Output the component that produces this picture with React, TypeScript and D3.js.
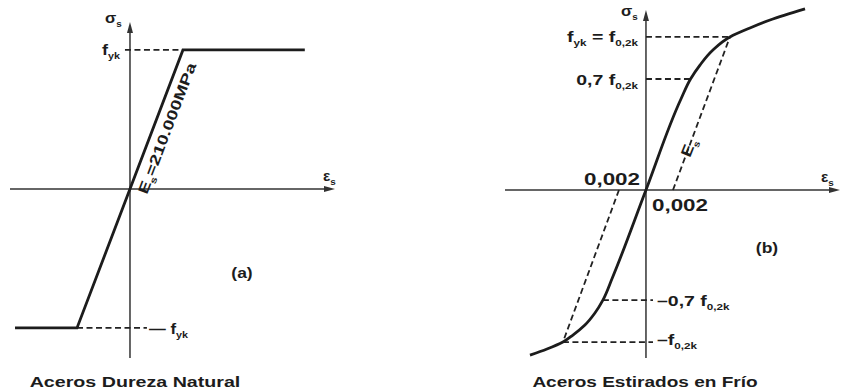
import React from 'react';
import * as d3 from 'd3';

// (a) hot-rolled steel: strain in per mil, stress as fraction of fyk
const leftStrain = [-4.34, -2, 2, 6.6];
const leftStress = [-1, -1, 1, 1];

// (b) cold-worked steel: strain in per mil, stress as fraction of f0,2k
const rightStrain = [-8.59, -7.33, -6.15, -5.41, -4.52, -3.78, -3.19, -2.5, 0, 2.6, 3.3, 4.0, 4.96, 6.22, 7.7, 9.19, 11.78];
const rightStress = [-1.086, -1.046, -1.0, -0.954, -0.888, -0.809, -0.724, -0.58, 0, 0.6, 0.73, 0.822, 0.921, 1.007, 1.066, 1.118, 1.191];

// offset (0,002) lines parallel to Es
const offsetTopStrain = [2, 6.22];
const offsetTopStress = [0, 1.007];
const offsetBotStrain = [-2, -6.15];
const offsetBotStress = [0, -1.0];

// dashed reference levels: [stress, fromStrain, toStrain]
const leftLevels: [number, number, number][] = [
  [1, -0.19, 2],
  [-1, -2, 0.64],
];
const rightLevels: [number, number, number][] = [
  [1.007, 0, 6.22],
  [0.73, 0, 3.3],
  [-0.724, -3.19, 0.52],
  [-1.0, -6.15, 0.52],
];

const FONT = '"Liberation Sans", Arial, sans-serif';
const INK = '#1c1c1c';
const SX = 1.35;

const Label = ({ x, y, anchor = 'start', size = 15, sx = SX, rotate = 0, children }: any) => (
  <g transform={`translate(${x},${y}) rotate(${rotate}) scale(${sx},1)`}>
    <text
      textAnchor={anchor}
      fontFamily={FONT}
      fontWeight="bold"
      fontSize={size}
      fill={INK}
    >
      {children}
    </text>
  </g>
);

const Sub = ({ children, size = 9 }: any) => (
  <tspan fontSize={size} dy={4}>
    {children}
  </tspan>
);

const Arrow = ({ x, y, dir }: { x: number; y: number; dir: 'up' | 'right' }) => {
  const pts =
    dir === 'up'
      ? `${x},${y} ${x - 3},${y + 11} ${x + 3},${y + 11}`
      : `${x},${y} ${x - 11},${y - 3} ${x - 11},${y + 3}`;
  return <polygon points={pts} fill="#333" />;
};

export default function App() {
  // left panel scales
  const xL = d3.scaleLinear().domain([-4.53, 7.74]).range([10, 335]);
  const yL = d3.scaleLinear().domain([-1.216, 1.201]).range([358, 22]);
  // right panel scales
  const xR = d3.scaleLinear().domain([-10.44, 14.37]).range([505, 840]);
  const yR = d3.scaleLinear().domain([-1.105, 1.184]).range([358, 10]);

  const leftData = leftStrain.map((e, i) => [e, leftStress[i]] as [number, number]);
  const rightData = rightStrain.map((e, i) => [e, rightStress[i]] as [number, number]);

  const lineL = d3
    .line<[number, number]>()
    .x((d) => xL(d[0]))
    .y((d) => yL(d[1]));
  const lineR = d3
    .line<[number, number]>()
    .x((d) => xR(d[0]))
    .y((d) => yR(d[1]));
  const curveR = d3
    .line<[number, number]>()
    .x((d) => xR(d[0]))
    .y((d) => yR(d[1]))
    .curve(d3.curveMonotoneY);

  const angL = (Math.atan2(yL(1) - yL(0), xL(2) - xL(0)) * 180) / Math.PI;
  const angR = (Math.atan2(yR(0.73) - yR(0), xR(3.26) - xR(0)) * 180) / Math.PI;

  const dash = '6,3.5';
  const dashW = 1.8;

  return (
    <svg
      width={842}
      height={392}
      style={{ position: 'absolute', left: 0, top: 0, background: '#fff' }}
    >
      {/* ---------- (a) ---------- */}
      <g>
        <line x1={xL(0)} x2={xL(0)} y1={yL.range()[0]} y2={yL.range()[1] + 4} stroke="#333" strokeWidth={1.5} />
        <line x1={xL.range()[0]} x2={xL.range()[1] - 4} y1={yL(0)} y2={yL(0)} stroke="#333" strokeWidth={1.5} />
        <Arrow x={xL(0)} y={yL.range()[1]} dir="up" />
        <Arrow x={xL.range()[1]} y={yL(0)} dir="right" />

        {leftLevels.map(([s, a, b], i) => (
          <line key={i} x1={xL(a)} x2={xL(b)} y1={yL(s)} y2={yL(s)} stroke="#222" strokeWidth={dashW} strokeDasharray={dash} />
        ))}

        <path d={lineL(leftData) || ''} fill="none" stroke={INK} strokeWidth={2.8} strokeLinejoin="miter" />

        <Label x={105} y={23} size={15} sx={1.1}>
          σ<Sub>s</Sub>
        </Label>
        <Label x={323} y={181} size={14} sx={1.1}>
          ε<Sub>s</Sub>
        </Label>
        <Label x={120} y={55} anchor="end" size={15} sx={1.2}>
          f<Sub>yk</Sub>
        </Label>
        <Label x={149} y={334} size={14} sx={1.2}>
          — f<Sub>yk</Sub>
        </Label>
        <Label x={147} y={195} rotate={angL} size={14.5} sx={1.32}>
          E<Sub>s</Sub>
          <tspan dy={-4} fontSize={14.5}>=210.000MPa</tspan>
        </Label>
        <Label x={242} y={278} anchor="middle" size={14} sx={1.25}>
          (a)
        </Label>
        <Label x={135} y={387} anchor="middle" size={15} sx={1.31}>
          Aceros Dureza Natural
        </Label>
      </g>

      {/* ---------- (b) ---------- */}
      <g>
        <line x1={xR(0)} x2={xR(0)} y1={yR.range()[0]} y2={yR.range()[1] + 4} stroke="#333" strokeWidth={1.5} />
        <line x1={xR.range()[0]} x2={xR.range()[1] - 4} y1={yR(0)} y2={yR(0)} stroke="#333" strokeWidth={1.5} />
        <Arrow x={xR(0)} y={yR.range()[1]} dir="up" />
        <Arrow x={xR.range()[1]} y={yR(0)} dir="right" />

        {rightLevels.map(([s, a, b], i) => (
          <line key={i} x1={xR(a)} x2={xR(b)} y1={yR(s)} y2={yR(s)} stroke="#222" strokeWidth={dashW} strokeDasharray={dash} />
        ))}
        <path
          d={lineR(offsetTopStrain.map((e, i) => [e, offsetTopStress[i]] as [number, number])) || ''}
          fill="none" stroke="#222" strokeWidth={dashW} strokeDasharray={dash}
        />
        <path
          d={lineR(offsetBotStrain.map((e, i) => [e, offsetBotStress[i]] as [number, number])) || ''}
          fill="none" stroke="#222" strokeWidth={dashW} strokeDasharray={dash}
        />

        <path d={curveR(rightData) || ''} fill="none" stroke={INK} strokeWidth={2.8} />

        <Label x={621} y={16} size={15} sx={1.1}>
          σ<Sub>s</Sub>
        </Label>
        <Label x={821} y={182} size={14} sx={1.1}>
          ε<Sub>s</Sub>
        </Label>
        <Label x={638} y={42} anchor="end" size={15} sx={1.3}>
          f<Sub>yk</Sub>
          <tspan dy={-4} fontSize={15}> = f</tspan>
          <Sub>0,2k</Sub>
        </Label>
        <Label x={638} y={85} anchor="end" size={15} sx={1.3}>
          0,7 f<Sub>0,2k</Sub>
        </Label>
        <Label x={657} y={306} size={15} sx={1.3}>
          –0,7 f<Sub>0,2k</Sub>
        </Label>
        <Label x={657} y={345} size={15} sx={1.3}>
          –f<Sub>0,2k</Sub>
        </Label>
        <Label x={640} y={185} anchor="end" size={16} sx={1.4}>
          0,002
        </Label>
        <Label x={652} y={211} size={16} sx={1.4}>
          0,002
        </Label>
        <Label x={690} y={158} rotate={angR} size={15} sx={1.2}>
          E<Sub>s</Sub>
        </Label>
        <Label x={767} y={253} anchor="middle" size={14} sx={1.25}>
          (b)
        </Label>
        <Label x={645} y={387} anchor="middle" size={15} sx={1.27}>
          Aceros Estirados en Frío
        </Label>
      </g>
    </svg>
  );
}
